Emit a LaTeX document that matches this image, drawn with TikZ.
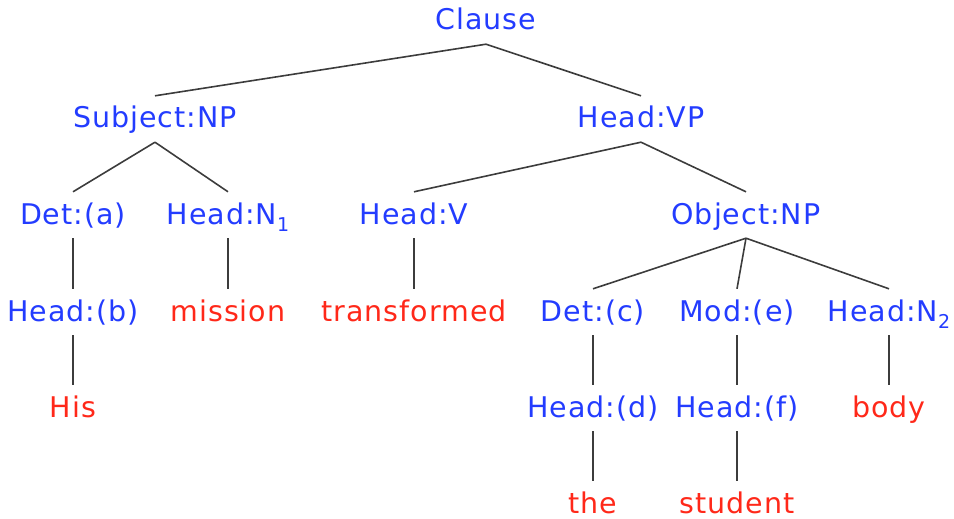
\documentclass[tikz,border=0pt]{standalone}
\usepackage{fontspec}
\setmainfont[LetterSpace=3.5]{DejaVu Sans}
\definecolor{lblue}{RGB}{35,60,255}
\definecolor{lred}{RGB}{255,40,25}
\definecolor{lgray}{RGB}{60,60,60}
\newcommand\sbs[1]{\raisebox{-0.25em}{\fontsize{19}{19}\selectfont #1}}
\begin{document}
\begin{tikzpicture}[x=1pt,y=-1pt,
  lab/.style={anchor=base,inner sep=0pt,text height=32pt,text depth=14pt,font=\fontsize{28.5}{34}\selectfont},
  cat/.style={lab,text=lblue},
  word/.style={lab,text=lred},
  edge/.style={draw=lgray,line width=1.6pt}]
\useasboundingbox (0,0) rectangle (954,519);
\node[cat] (clause) at (486,30) {Clause};
\node[cat] (subj) at (155,128) {Subject:NP};
\node[cat] (hvp) at (641,128) {Head:VP};
\node[cat] (deta) at (73,224) {Det:(a)};
\node[cat] (hn1) at (228,224) {Head:N\sbs{1}};
\node[cat] (hv) at (414,224) {Head:V};
\node[cat] (obj) at (746,224) {Object:NP};
\node[cat] (headb) at (73,321) {Head:(b)};
\node[word] (mission) at (228,321) {mission};
\node[word] (transformed) at (414,321) {transformed};
\node[cat] (detc) at (593,321) {Det:(c)};
\node[cat] (mode) at (737,321) {Mod:(e)};
\node[cat] (hn2) at (889,321) {Head:N\sbs{2}};
\node[word] (his) at (73,417) {His};
\node[cat] (headd) at (593,417) {Head:(d)};
\node[cat] (headf) at (737,417) {Head:(f)};
\node[word] (body) at (889,417) {body};
\node[word] (the) at (593,513) {the};
\node[word] (student) at (737,513) {student};
\draw[edge] (clause.south) -- (subj.north);
\draw[edge] (clause.south) -- (hvp.north);
\draw[edge] (subj.south) -- (deta.north);
\draw[edge] (subj.south) -- (hn1.north);
\draw[edge] (hvp.south) -- (hv.north);
\draw[edge] (hvp.south) -- (obj.north);
\draw[edge] (deta.south) -- (headb.north);
\draw[edge] (hn1.south) -- (mission.north);
\draw[edge] (hv.south) -- (transformed.north);
\draw[edge] (obj.south) -- (detc.north);
\draw[edge] (obj.south) -- (mode.north);
\draw[edge] (obj.south) -- (hn2.north);
\draw[edge] (headb.south) -- (his.north);
\draw[edge] (detc.south) -- (headd.north);
\draw[edge] (mode.south) -- (headf.north);
\draw[edge] (hn2.south) -- (body.north);
\draw[edge] (headd.south) -- (the.north);
\draw[edge] (headf.south) -- (student.north);
\end{tikzpicture}
\end{document}
